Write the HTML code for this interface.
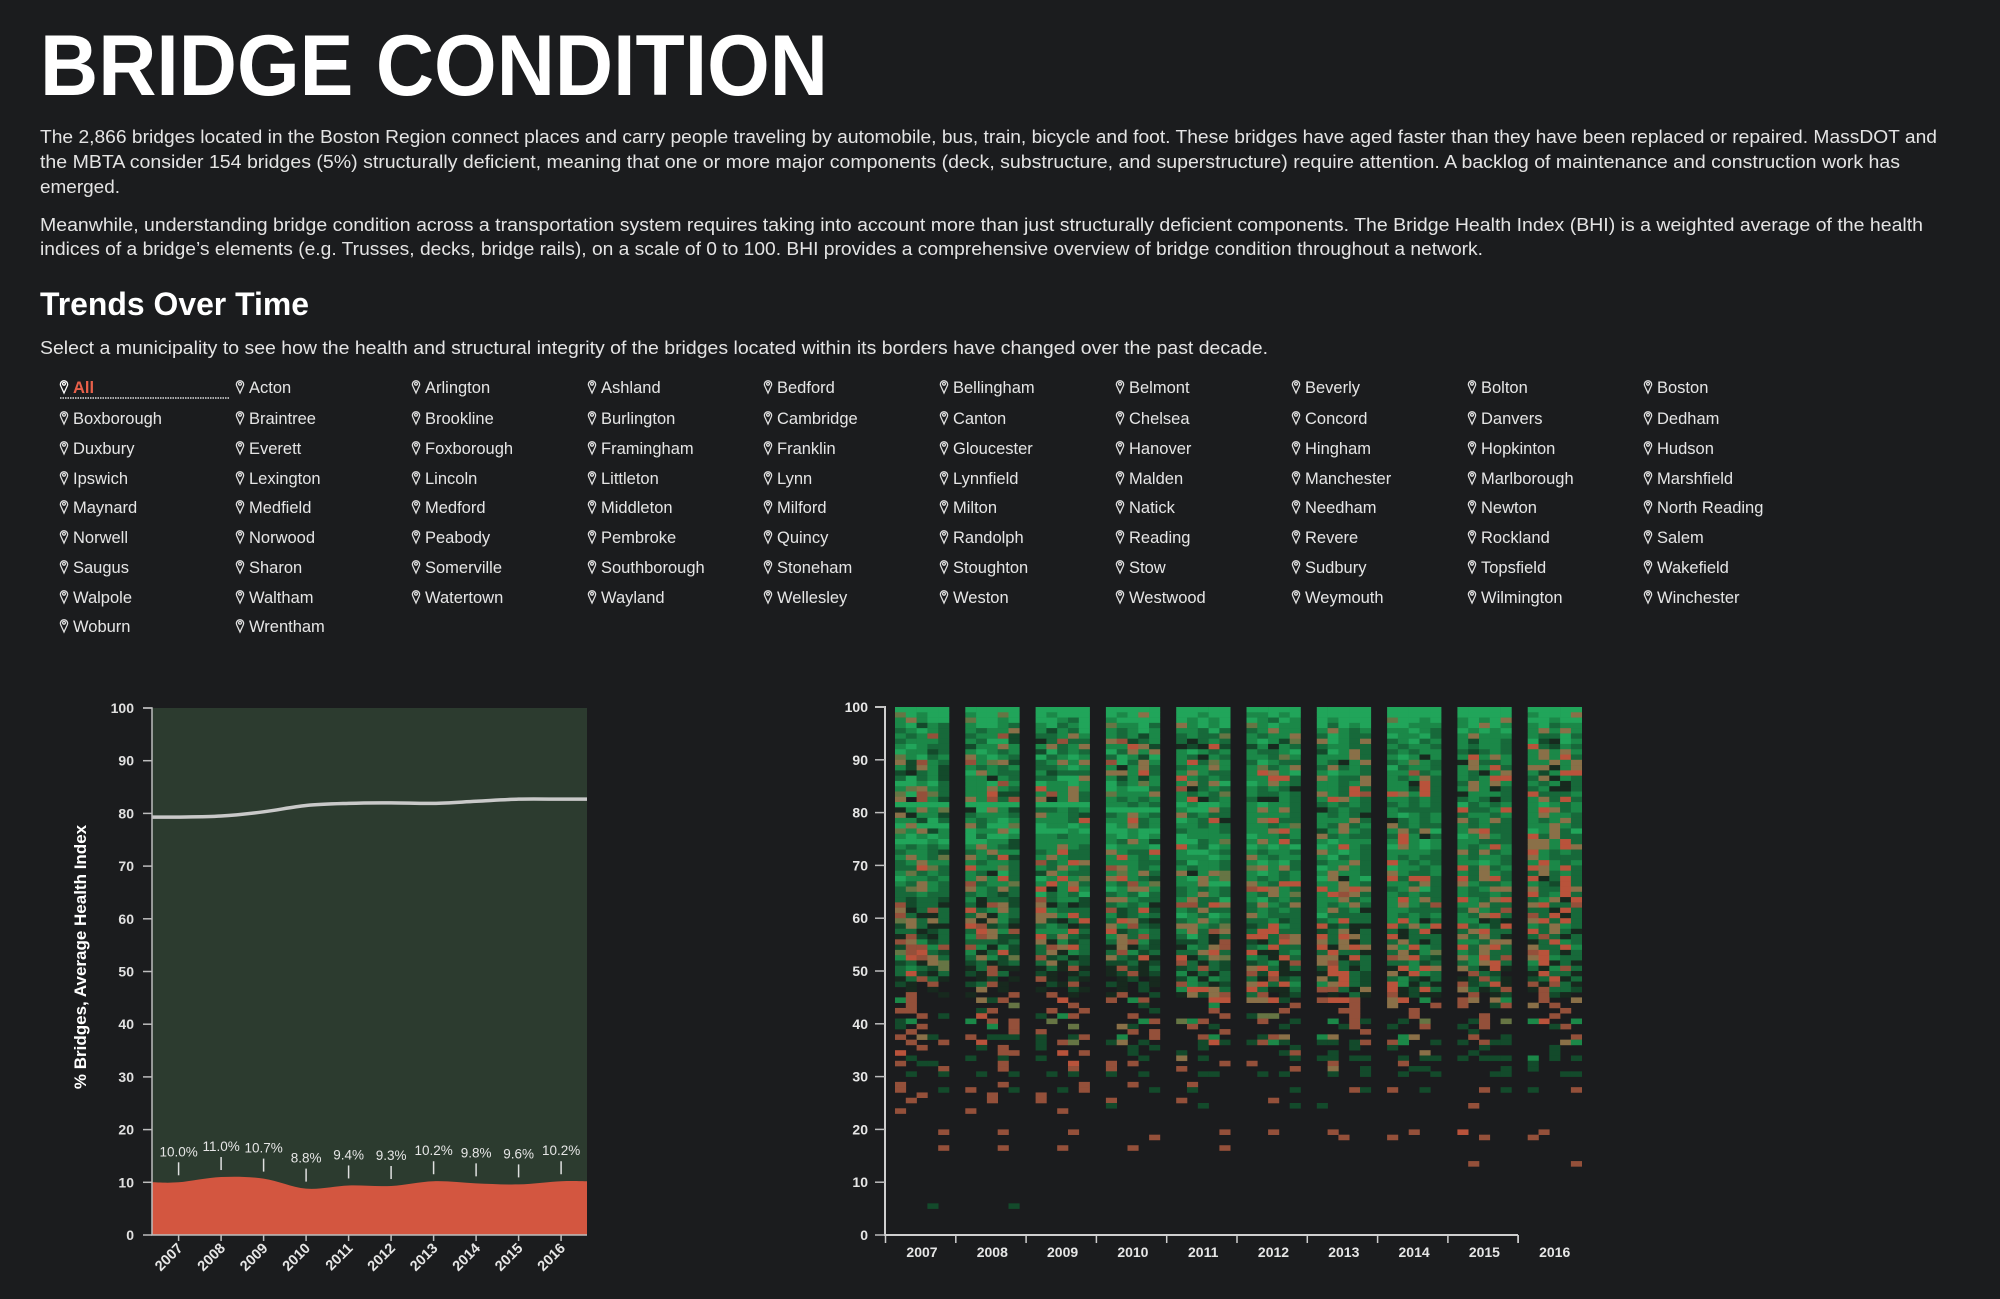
<!DOCTYPE html>
<html><head><meta charset="utf-8"><style>
html,body{margin:0;padding:0;background:#1b1c1e;}
svg{display:block;font-family:"Liberation Sans",sans-serif;}
</style></head><body>
<svg id="page" width="2000" height="1299" viewBox="0 0 2000 1299" xmlns="http://www.w3.org/2000/svg">
<rect x="0" y="0" width="2000" height="1299" fill="#1b1c1e"/>
<text x="40" y="95" font-size="86" font-weight="bold" fill="#ffffff" textLength="788" lengthAdjust="spacingAndGlyphs">BRIDGE CONDITION</text>
<g fill="#e4e4e4" font-size="18.5">
<text x="40" y="143" textLength="1897" lengthAdjust="spacingAndGlyphs">The 2,866 bridges located in the Boston Region connect places and carry people traveling by automobile, bus, train, bicycle and foot. These bridges have aged faster than they have been replaced or repaired. MassDOT and</text>
<text x="40" y="168" textLength="1860" lengthAdjust="spacingAndGlyphs">the MBTA consider 154 bridges (5%) structurally deficient, meaning that one or more major components (deck, substructure, and superstructure) require attention. A backlog of maintenance and construction work has</text>
<text x="40" y="193" textLength="80" lengthAdjust="spacingAndGlyphs">emerged.</text>
</g>
<g fill="#e4e4e4" font-size="18.5">
<text x="40" y="231" textLength="1883" lengthAdjust="spacingAndGlyphs">Meanwhile, understanding bridge condition across a transportation system requires taking into account more than just structurally deficient components. The Bridge Health Index (BHI) is a weighted average of the health</text>
<text x="40" y="255" textLength="1443" lengthAdjust="spacingAndGlyphs">indices of a bridge’s elements (e.g. Trusses, decks, bridge rails), on a scale of 0 to 100. BHI provides a comprehensive overview of bridge condition throughout a network.</text>
</g>
<text x="40" y="315" font-size="32" font-weight="bold" fill="#ffffff" textLength="269" lengthAdjust="spacingAndGlyphs">Trends Over Time</text>
<text x="40" y="354" font-size="18.5" fill="#e4e4e4" textLength="1228" lengthAdjust="spacingAndGlyphs">Select a municipality to see how the health and structural integrity of the bridges located within its borders have changed over the past decade.</text>
<g id="munis"></g>
<g id="leftChart"></g>
<g id="rightChart"></g>
</svg>
<script>
const NS = "http://www.w3.org/2000/svg";
const municipalities = ["All","Acton","Arlington","Ashland","Bedford","Bellingham","Belmont","Beverly","Bolton","Boston","Boxborough","Braintree","Brookline","Burlington","Cambridge","Canton","Chelsea","Concord","Danvers","Dedham","Duxbury","Everett","Foxborough","Framingham","Franklin","Gloucester","Hanover","Hingham","Hopkinton","Hudson","Ipswich","Lexington","Lincoln","Littleton","Lynn","Lynnfield","Malden","Manchester","Marlborough","Marshfield","Maynard","Medfield","Medford","Middleton","Milford","Milton","Natick","Needham","Newton","North Reading","Norwell","Norwood","Peabody","Pembroke","Quincy","Randolph","Reading","Revere","Rockland","Salem","Saugus","Sharon","Somerville","Southborough","Stoneham","Stoughton","Stow","Sudbury","Topsfield","Wakefield","Walpole","Waltham","Watertown","Wayland","Wellesley","Weston","Westwood","Weymouth","Wilmington","Winchester","Woburn","Wrentham"];

// Left chart data
const years = ["2007","2008","2009","2010","2011","2012","2013","2014","2015","2016"];
const pctDeficient = [10.0, 11.0, 10.7, 8.8, 9.4, 9.3, 10.2, 9.8, 9.6, 10.2];
const pctLabels = ["10.0%","11.0%","10.7%","8.8%","9.4%","9.3%","10.2%","9.8%","9.6%","10.2%"];
const avgBHI = [79.3, 79.5, 80.3, 81.5, 81.9, 82.0, 81.9, 82.3, 82.7, 82.7];
const yTicks = [0,10,20,30,40,50,60,70,80,90,100];

// Heatmap data: rows 100 down to 46 (5 sub-columns per year), codes = BHI colour class
const heat2007 = "GGGGG oGgGG gtgGG gGdgm mgGgm gmgrm mgggm gGgmm Gggdm ogGmg tdrgm gdtgd dkmgd mGmgd GGgGm gotgm oGrom t.rgd GGGGG kgtgo tkggd ggdGm GtGGG ogtdg gGgGg GGGgG gmgmg mggmd gtgmo mgtgg mmRom gomgm Gggmg gmtgm motgm mmgmm mdmmd rdmmk tkmrm rmkkm otmtm dtmkk mmkdm krdkm rtgdm drrgr orRmd gRrtm dmkto mgmdo mRdkm kmrmk dk.r. .k.k. .r..k";
const heat2008 = "GGGGG gGGoG oGGgG gGGgm gmggt mggrd gmGGd dggtg gGgmg tgGgm rgotd gmgmg Gtgmm ggkgm ggGrg ggtgm ggRdd tgrmr GGGGG kGtgd mgggm gmgGg tmGGo GggtG GmGGg GGggd gtgmd mgtgg tgmRd gmggm Rggom gmkGm gtgRm rmggo tgmtm mgmdm gkmmd mkrtd Rmgtm mtkgm tktgd Rrdmk mRtgr grtdd mmmdm rgkgd gkmRd mtgdo dmkdm kmrkk dkrm. .kd.k dmrk. .t.k. k...r";
const heat2009 = "GGGGG GgGGG GGgmG gGmgG gdgmG mmgtg kmrmm gtmgt dGmgm GmgGg mgtgt mmgGg gdmmm mmGGt GggGg Rggtg grgtm tkgtm GGGGG mmgmg tggmd gggmR GggGg GGGgG ggmgg ggggg ggtgm mgRmm gtgmm rmgRt gmtgm dtgmm GgRgo gRgtm RkgRg GmgmG rmggd tkmkd Rgmmm ttgRm tdkmR mgmkd gggRm Rmtmd tkgdm mrtRm mtkgm rdmkd mtkmd kmkrk dk.kd rk.dk .dkr. k..dk .r.k.";
const heat2010 = "GGGGG GgGtG gGGGG oggGm gmgGg gmgdg trdmg ggRtd Gmtgt mGgdG rGmtg gkgtm ttgRm gdgdg Gmgog GgGGm ogggt gmgmg ggmgm GGGGG mgtgm ggRmg Ggtmg GGgGG gGgGg gmtgd GgggG tgmmR gRgmg gggmm rtgmg gogtm tRgmd gmrgo Ggttg mgmGm ttgmm mgmgk rdmRd gdmgm mRtdk tgrmd Rdmgm gtmrm mtrgd ktkmd mrgdm tmdRk ddmkd krdkm kdrkd .kd.k dk.dk .k.d. kr..d";
const heat2011 = "GGGGG GGgGG GgGgG tgGgG ggmGm mgmmo mkmgm kdkRd gGgmg gmkgm gRmog mggtg gtgmm Rgmgm gtmtG rkmgm gmgmo gRkmg GgGGg gGGtm tmgmm GgmRk ggmgm mgggm Ggggg GGmgo RgmGg gGGgm gggGg mGggm gmggm tkgto gGtgo ggtGG mgmgm mgtgm gtmmG rrmRt gmtmm GgmGg mgtgm ttgmo gtmrt mGmkm ddmkr kgmtr mmtRm Rkmto rmkmd dmrmd gkmkm dgkgm rgmkd gRRtm ktdtr";
const heat2012 = "GGGGG ggGgG GgmGg ogGgg mgtgg gmggt gGgdo dgkgm gmmgG ggmog mGgmm gomgt gRtgG ggRRm Ggtgm gmgmk gmmgm mkkgm gGggm gtgtm ggggm gtRmm ggmgo ggtRg Gggmg gtgRm GgGgG gmggm tgmgg gGgGm otgtm gGgmg gmgmg tgmRR rRtgm gmtgo gGmgm mtgmt mgmgm tgmmm mmgdm dmRgm mRRmm RRmrt dkmRt mgRmm Rkkmg gmkRm dmgkr tRmkm rdRkk mkrdm tRmRg Rmkkm mr.kd";
const heat2013 = "GGGGG GGGGG GgGGG GmGgG gtgmg mGgmm tGgmt mggmm dGgtm gggtm gmkgt mtmgm gGggm tgmmt ggmgt ggmRm tgmRr gRtgm mgmgm kmgmm gmgmk gggtm gmtmg dgtgm tmgmm gGggg GgRgm tgGgm gGmgm mggtm Ggtgm gtggm GtkgG ggtgm RgtRt gRrtm ggtmg gmgtm gtmgk Gmmmm mgRmm Rdmkk dmtkm RmRtm tmtkm RktRt mRmmk ttkRm trmdm dRmkm kRRmd tdRmd gtRmd rrmkt .k.mk";
const heat2014 = "GGGGG GGGGG oGGgG GGggg ggGgm GggGm mgGmg gmggm mgmgg gGgkg mgogm Gmggm ggrmg gmgtm ggkRm ggdRm RtgRm ggmgm mgmgm gmmmm gGgmg kmgmg tmgmm gtmtG mRgkm gRgGg GtgGg ggggm gmgmm Rgmgm Gggmg tgmmg RmRRm ggmtm mgtGm gmgmm gRgtm gtgmr ggmmm gmgmg gRgkm RmtgR mkmRk Rkmmm mtmkm tgRgm mtdgo rtRmd mmgdm kRgRt tkRgm mgdkm Rgkmk RkdRm rkdkk";
const heat2015 = "GGGGG GGGGG gGgGt gGtGg GgGgG gtggg gdggm gmggm mdmgm gRgtg ktmmg gtgRm gmkgt gmgRR mtgtg gtgkm kgggm mgmkm Gmgmg RmmgR mggmg tmgtm gmgmm gtRmm Ggtgm ggmmm gmgRg tmtmg gmggm ggGgm Rmtmg gmtgm RmtRm tgmmg gmgtt gmmgm RgmtR ggtmm mtgmr gmtRm ggkdk RmgdR mtRmm tmtmk ggmtt RmtRm gmtmm tgRmr mgtRm tmkRk .rmd. kdrmk rdmRk tmkdr .r.kd";
const heat2016 = "GGGGG gGGGt GGgGG gGmgg gtgtg gmmGm GdkGg Rmdgm gtgtg gtgRm ggtgt ttkgt gdgRR mtkgm gmgkm mgkkm Rmmmg gtmRm gGgmg gRtmg gtggm gmgtm ggtgm GgtmG Rmtmm ttgRm ttgRt Rgmgm tgmmm gRgmg RtgRm mtmgm RkmRm gmdRm tmmRt RmgRm mgtkR tRmmr mmkRm rmRkm tRmRm gmtgm Rmtmk mrmkm kmRgm tmmRg rRmkm tRgmm gRkmk mkgrm kRmmk dmRkm rkrmk krmmd .rdk.";
const heatTop = [heat2007,heat2008,heat2009,heat2010,heat2011,heat2012,heat2013,heat2014,heat2015,heat2016];
// sparse low cells: [row upper value, sub-column, code]
const low2007 = [[45,0,"g"],[45,1,"r"],[44,1,"r"],[43,0,"r"],[43,1,"r"],[42,2,"r"],[42,4,"d"],[41,0,"d"],[41,1,"g"],[40,0,"d"],[40,2,"r"],[39,1,"r"],[38,0,"r"],[38,2,"t"],[38,3,"d"],[37,1,"r"],[37,4,"r"],[36,2,"r"],[35,0,"R"],[34,1,"d"],[33,2,"d"],[33,3,"d"],[33,0,"r"],[32,4,"r"],[31,1,"d"],[31,4,"d"],[29,0,"r"],[28,0,"r"],[28,4,"d"],[27,2,"r"],[26,1,"r"],[24,0,"r"],[20,4,"r"],[17,4,"r"],[6,3,"d"]];
const low2008 = [[45,1,"t"],[45,2,"d"],[45,3,"r"],[44,4,"o"],[43,1,"d"],[43,2,"r"],[42,1,"R"],[41,0,"g"],[41,2,"r"],[41,4,"r"],[40,2,"g"],[40,4,"r"],[39,4,"r"],[38,0,"r"],[38,2,"d"],[38,3,"d"],[38,4,"d"],[37,1,"R"],[36,1,"d"],[36,3,"r"],[35,3,"r"],[35,4,"r"],[34,0,"d"],[34,3,"d"],[33,3,"r"],[32,3,"r"],[31,1,"d"],[31,4,"d"],[29,3,"r"],[28,0,"r"],[28,4,"d"],[27,2,"r"],[26,2,"r"],[24,0,"r"],[20,3,"r"],[17,3,"r"],[6,4,"d"]];
const low2009 = [[45,2,"R"],[44,3,"r"],[43,1,"r"],[43,4,"r"],[42,0,"d"],[42,2,"g"],[42,3,"r"],[41,1,"o"],[40,3,"o"],[39,0,"r"],[38,0,"d"],[38,3,"d"],[38,4,"r"],[37,0,"d"],[37,2,"r"],[37,3,"o"],[36,0,"d"],[35,2,"R"],[35,4,"r"],[34,0,"d"],[33,3,"R"],[32,3,"r"],[31,1,"d"],[31,3,"d"],[29,4,"r"],[28,2,"d"],[28,4,"r"],[27,0,"r"],[26,0,"r"],[24,2,"r"],[20,3,"r"],[17,2,"r"]];
const low2010 = [[45,0,"r"],[45,2,"g"],[45,3,"r"],[44,3,"d"],[43,4,"d"],[42,2,"r"],[41,3,"g"],[41,4,"r"],[40,1,"t"],[40,2,"d"],[39,2,"r"],[39,4,"r"],[38,1,"g"],[38,4,"r"],[37,0,"d"],[37,1,"t"],[37,3,"d"],[36,2,"d"],[36,4,"d"],[35,2,"d"],[34,3,"d"],[33,0,"r"],[33,2,"r"],[32,0,"r"],[31,0,"d"],[31,3,"d"],[29,2,"r"],[28,4,"d"],[26,0,"r"],[25,0,"d"],[19,4,"r"],[17,2,"r"]];
const low2011 = [[45,4,"R"],[45,3,"R"],[44,3,"g"],[43,3,"r"],[42,4,"r"],[41,0,"o"],[41,1,"g"],[41,2,"r"],[40,1,"r"],[40,3,"d"],[39,4,"r"],[38,2,"r"],[38,3,"g"],[37,2,"d"],[37,3,"R"],[37,4,"d"],[36,2,"d"],[35,0,"d"],[34,0,"t"],[34,2,"d"],[33,4,"r"],[32,0,"r"],[31,2,"d"],[31,3,"d"],[29,1,"r"],[28,1,"d"],[26,0,"r"],[25,2,"d"],[20,4,"r"],[17,4,"r"]];
const low2012 = [[45,0,"t"],[45,1,"t"],[45,2,"R"],[45,3,"d"],[44,4,"r"],[43,3,"r"],[42,0,"d"],[42,1,"o"],[42,2,"o"],[41,1,"r"],[41,4,"d"],[40,3,"d"],[38,1,"d"],[38,2,"r"],[38,3,"t"],[37,0,"d"],[37,1,"r"],[37,2,"g"],[37,3,"d"],[36,4,"d"],[35,3,"d"],[35,4,"r"],[34,4,"d"],[33,0,"r"],[32,4,"r"],[31,1,"d"],[31,3,"d"],[28,4,"d"],[26,2,"r"],[25,4,"d"],[20,2,"r"]];
const low2013 = [[45,1,"R"],[45,2,"R"],[45,3,"r"],[45,0,"r"],[44,3,"r"],[43,2,"r"],[43,3,"r"],[42,3,"r"],[41,1,"g"],[41,3,"r"],[41,4,"d"],[40,2,"d"],[40,3,"r"],[39,4,"r"],[38,0,"g"],[38,1,"t"],[37,0,"d"],[37,1,"d"],[37,3,"d"],[37,4,"r"],[36,3,"d"],[35,1,"d"],[34,0,"d"],[34,1,"d"],[34,3,"d"],[34,4,"d"],[33,1,"r"],[32,1,"t"],[32,4,"d"],[31,1,"d"],[31,4,"d"],[28,3,"r"],[28,4,"d"],[25,0,"d"],[20,1,"r"],[19,2,"r"]];
const low2014 = [[45,0,"t"],[45,1,"R"],[45,3,"g"],[44,0,"t"],[44,4,"r"],[43,2,"r"],[42,2,"r"],[41,1,"d"],[41,3,"o"],[40,3,"r"],[40,0,"d"],[38,1,"g"],[38,2,"t"],[37,0,"r"],[37,1,"g"],[37,4,"d"],[36,0,"d"],[35,3,"t"],[34,1,"d"],[34,3,"d"],[34,4,"d"],[33,1,"r"],[32,2,"d"],[32,3,"d"],[31,1,"d"],[31,4,"d"],[28,0,"r"],[28,3,"d"],[20,2,"r"],[19,0,"r"]];
const low2015 = [[45,0,"r"],[45,1,"t"],[45,3,"t"],[45,4,"g"],[44,0,"r"],[44,3,"d"],[44,4,"r"],[42,2,"r"],[41,1,"d"],[41,2,"r"],[41,4,"o"],[40,2,"r"],[40,0,"d"],[39,1,"d"],[38,1,"r"],[38,4,"d"],[37,0,"d"],[37,2,"r"],[37,3,"d"],[37,4,"d"],[36,2,"d"],[35,1,"d"],[34,0,"d"],[34,2,"d"],[34,3,"d"],[34,4,"d"],[32,4,"d"],[31,3,"d"],[31,4,"d"],[28,2,"r"],[28,4,"d"],[25,1,"r"],[20,0,"R"],[19,2,"r"],[14,1,"r"]];
const low2016 = [[45,1,"r"],[45,4,"t"],[44,2,"r"],[44,0,"t"],[43,3,"r"],[42,2,"r"],[41,1,"R"],[41,0,"g"],[41,4,"g"],[40,3,"r"],[40,2,"d"],[38,4,"r"],[37,3,"t"],[37,4,"g"],[36,2,"d"],[35,2,"d"],[34,0,"g"],[34,2,"d"],[34,4,"d"],[33,0,"d"],[32,0,"d"],[31,3,"d"],[31,4,"d"],[28,0,"d"],[28,4,"r"],[20,1,"r"],[19,0,"r"],[14,4,"r"]];
const heatLow = [low2007,low2008,low2009,low2010,low2011,low2012,low2013,low2014,low2015,low2016];

function mk(tag, attrs, parent){
  const e = document.createElementNS(NS, tag);
  for (const k in attrs) e.setAttribute(k, attrs[k]);
  if (parent) parent.appendChild(e);
  return e;
}

// Municipality list
const munis = document.getElementById('munis');
const colX0 = 60, colStep = 176, rowYs = [387,418,448,478,507,537,567,597,626];
municipalities.forEach((m, i) => {
  const c = i % 10, r = Math.floor(i / 10);
  const x = colX0 + c * colStep, y = rowYs[r];
  const g = mk('g', {}, munis);
  
  
  const pin = mk('path', {d:`M${x+4},${y+6} L${x+0.8},${y-1} A3.6,3.6 0 1 1 ${x+7.2},${y-1} Z M${x+4},${y-4.6} A1.4,1.4 0 1 0 ${x+4.01},${y-4.6}`, fill:'none', stroke: i===0?'#ffffff':'#e0e0e0', 'stroke-width':1.3}, g);
  
  
  const t = mk('text', {x:x+13, y:y+6, 'font-size':16.5, fill: i===0 ? '#e8604a' : '#e6e6e6', 'font-weight': i===0?'bold':'normal'}, g);
  t.textContent = m;
  if (i === 0) {
    const u = mk('line', {x1:60, x2:230, y1:398, y2:398, stroke:'#dddddd', 'stroke-width':1.5, 'stroke-dasharray':'1.5,1'}, g);
    
    
  }
});

// Left chart
const L = document.getElementById('leftChart');
const lx0 = 152, lx1 = 587, ly0 = 708, ly1 = 1235;
const ly = v => ly1 - (ly1 - ly0) * v / 100;
const lx = i => 178.6 + i * 42.5;
const bg = mk('rect', {x:lx0, y:ly0, width:lx1-lx0, height:ly1-ly0, fill:'#2c3b2f'}, L);


function smoothPath(pts){
  let d = `M${pts[0][0]},${pts[0][1]}`;
  for (let i = 0; i < pts.length - 1; i++) {
    const p0 = pts[Math.max(0,i-1)], p1 = pts[i], p2 = pts[i+1], p3 = pts[Math.min(pts.length-1,i+2)];
    const c1x = p1[0] + (p2[0]-p0[0])/6, c1y = p1[1] + (p2[1]-p0[1])/6;
    const c2x = p2[0] - (p3[0]-p1[0])/6, c2y = p2[1] - (p3[1]-p1[1])/6;
    d += ` C${c1x},${c1y} ${c2x},${c2y} ${p2[0]},${p2[1]}`;
  }
  return d;
}
const defPts = [[lx0, ly(pctDeficient[0])]].concat(pctDeficient.map((v,i)=>[lx(i), ly(v)])).concat([[lx1, ly(pctDeficient[pctDeficient.length-1])]]);
const area = mk('path', {d: smoothPath(defPts) + ` L${lx1},${ly1} L${lx0},${ly1} Z`, fill:'#d35640'}, L);


const bhiPts = [[lx0, ly(avgBHI[0])]].concat(avgBHI.map((v,i)=>[lx(i), ly(v)])).concat([[lx1, ly(avgBHI[avgBHI.length-1])]]);
const line = mk('path', {d: smoothPath(bhiPts), fill:'none', stroke:'#c9c9c9', 'stroke-width':3.5}, L);


pctDeficient.forEach((v,i)=>{
  const tk = mk('line', {x1:lx(i), x2:lx(i), y1:ly(v)-20, y2:ly(v)-7, stroke:'#e0e0e0', 'stroke-width':1.5}, L);
  
  
  const t = mk('text', {x:lx(i), y:ly(v)-26, 'text-anchor':'middle', 'font-size':13.5, fill:'#e6e6e6'}, L);
  
  
  t.textContent = pctLabels[i];
});
const lAxis = mk('path', {d:`M143,${ly0} H${lx0} V${ly1} H${lx1}`, fill:'none', stroke:'#bdbdbd', 'stroke-width':1.5}, L);


yTicks.forEach(v=>{
  const tk = mk('line', {x1:143, x2:lx0, y1:ly(v), y2:ly(v), stroke:'#bdbdbd', 'stroke-width':1.5}, L);
  
  
  const t = mk('text', {x:134, y:ly(v)+5, 'text-anchor':'end', 'font-size':14, 'font-weight':'bold', fill:'#e0e0e0'}, L);
  
  
  t.textContent = v;
});
years.forEach((yr,i)=>{
  const tk = mk('line', {x1:lx(i), x2:lx(i), y1:ly1, y2:ly1+6, stroke:'#bdbdbd', 'stroke-width':1.5}, L);
  
  
  const t = mk('text', {x:lx(i)+5, y:ly1+14, 'text-anchor':'end', 'font-size':14.5, 'font-weight':'bold', fill:'#e6e6e6', transform:`rotate(-45 ${lx(i)+5} ${ly1+14})`}, L);
  
  
  t.textContent = yr;
});
const yTitle = mk('text', {x:0, y:0, 'text-anchor':'middle', 'font-size':17, 'font-weight':'bold', fill:'#ffffff', transform:'translate(86,957) rotate(-90)'}, L);


yTitle.textContent = '% Bridges, Average Health Index';

// Right chart (heatmap)
const R = document.getElementById('rightChart');
const ry0 = 707, ry1 = 1235, raxX = 885;
const ry = v => ry1 - (ry1 - ry0) * v / 100;
const colStart = i => 895 + i * 70.3;
const subW = 10.8;
const palette = {G:'#21a55a', g:'#1b8848', m:'#17693a', d:'#134a2b', k:'#17291e', o:'#667544', t:'#8a7048', r:'#94503a', R:'#b9533b'};
function cell(yi, sub, rowTop, code){
  if (!palette[code]) return;
  const c = mk('rect', {x:colStart(yi)+sub*subW, y:ry(rowTop), width:subW+0.3, height:(ry1-ry0)/100+0.3, fill:palette[code]}, R);
  
  
}
heatTop.forEach((s, yi)=>{
  s.split(' ').forEach((row, ri)=>{
    for (let k = 0; k < 5; k++) cell(yi, k, 100 - ri, row[k]);
  });
});
heatLow.forEach((list, yi)=>{
  list.forEach(e => cell(yi, e[1], e[0], e[2]));
});
const rAxis = mk('path', {d:`M875,${ry0} H${raxX} V${ry1} H1518`, fill:'none', stroke:'#cfcfcf', 'stroke-width':2}, R);


yTicks.forEach(v=>{
  const tk = mk('line', {x1:875, x2:raxX, y1:ry(v), y2:ry(v), stroke:'#bdbdbd', 'stroke-width':1.5}, R);
  
  
  const t = mk('text', {x:868, y:ry(v)+5, 'text-anchor':'end', 'font-size':14, 'font-weight':'bold', fill:'#e6e6e6'}, R);
  
  
  t.textContent = v;
});
years.forEach((yr,i)=>{
  const bx = 885.5 + i * 70.3;
  const tk = mk('line', {x1:bx, x2:bx, y1:ry1, y2:ry1+8, stroke:'#cfcfcf', 'stroke-width':1.5}, R);
  
  
  const t = mk('text', {x:colStart(i)+27, y:ry1+22, 'text-anchor':'middle', 'font-size':14, 'font-weight':'bold', fill:'#e6e6e6'}, R);
  
  
  t.textContent = yr;
});
const endTk = mk('line', {x1:1518, x2:1518, y1:ry1, y2:ry1+8, stroke:'#cfcfcf', 'stroke-width':1.5}, R);


</script>
</body></html>
